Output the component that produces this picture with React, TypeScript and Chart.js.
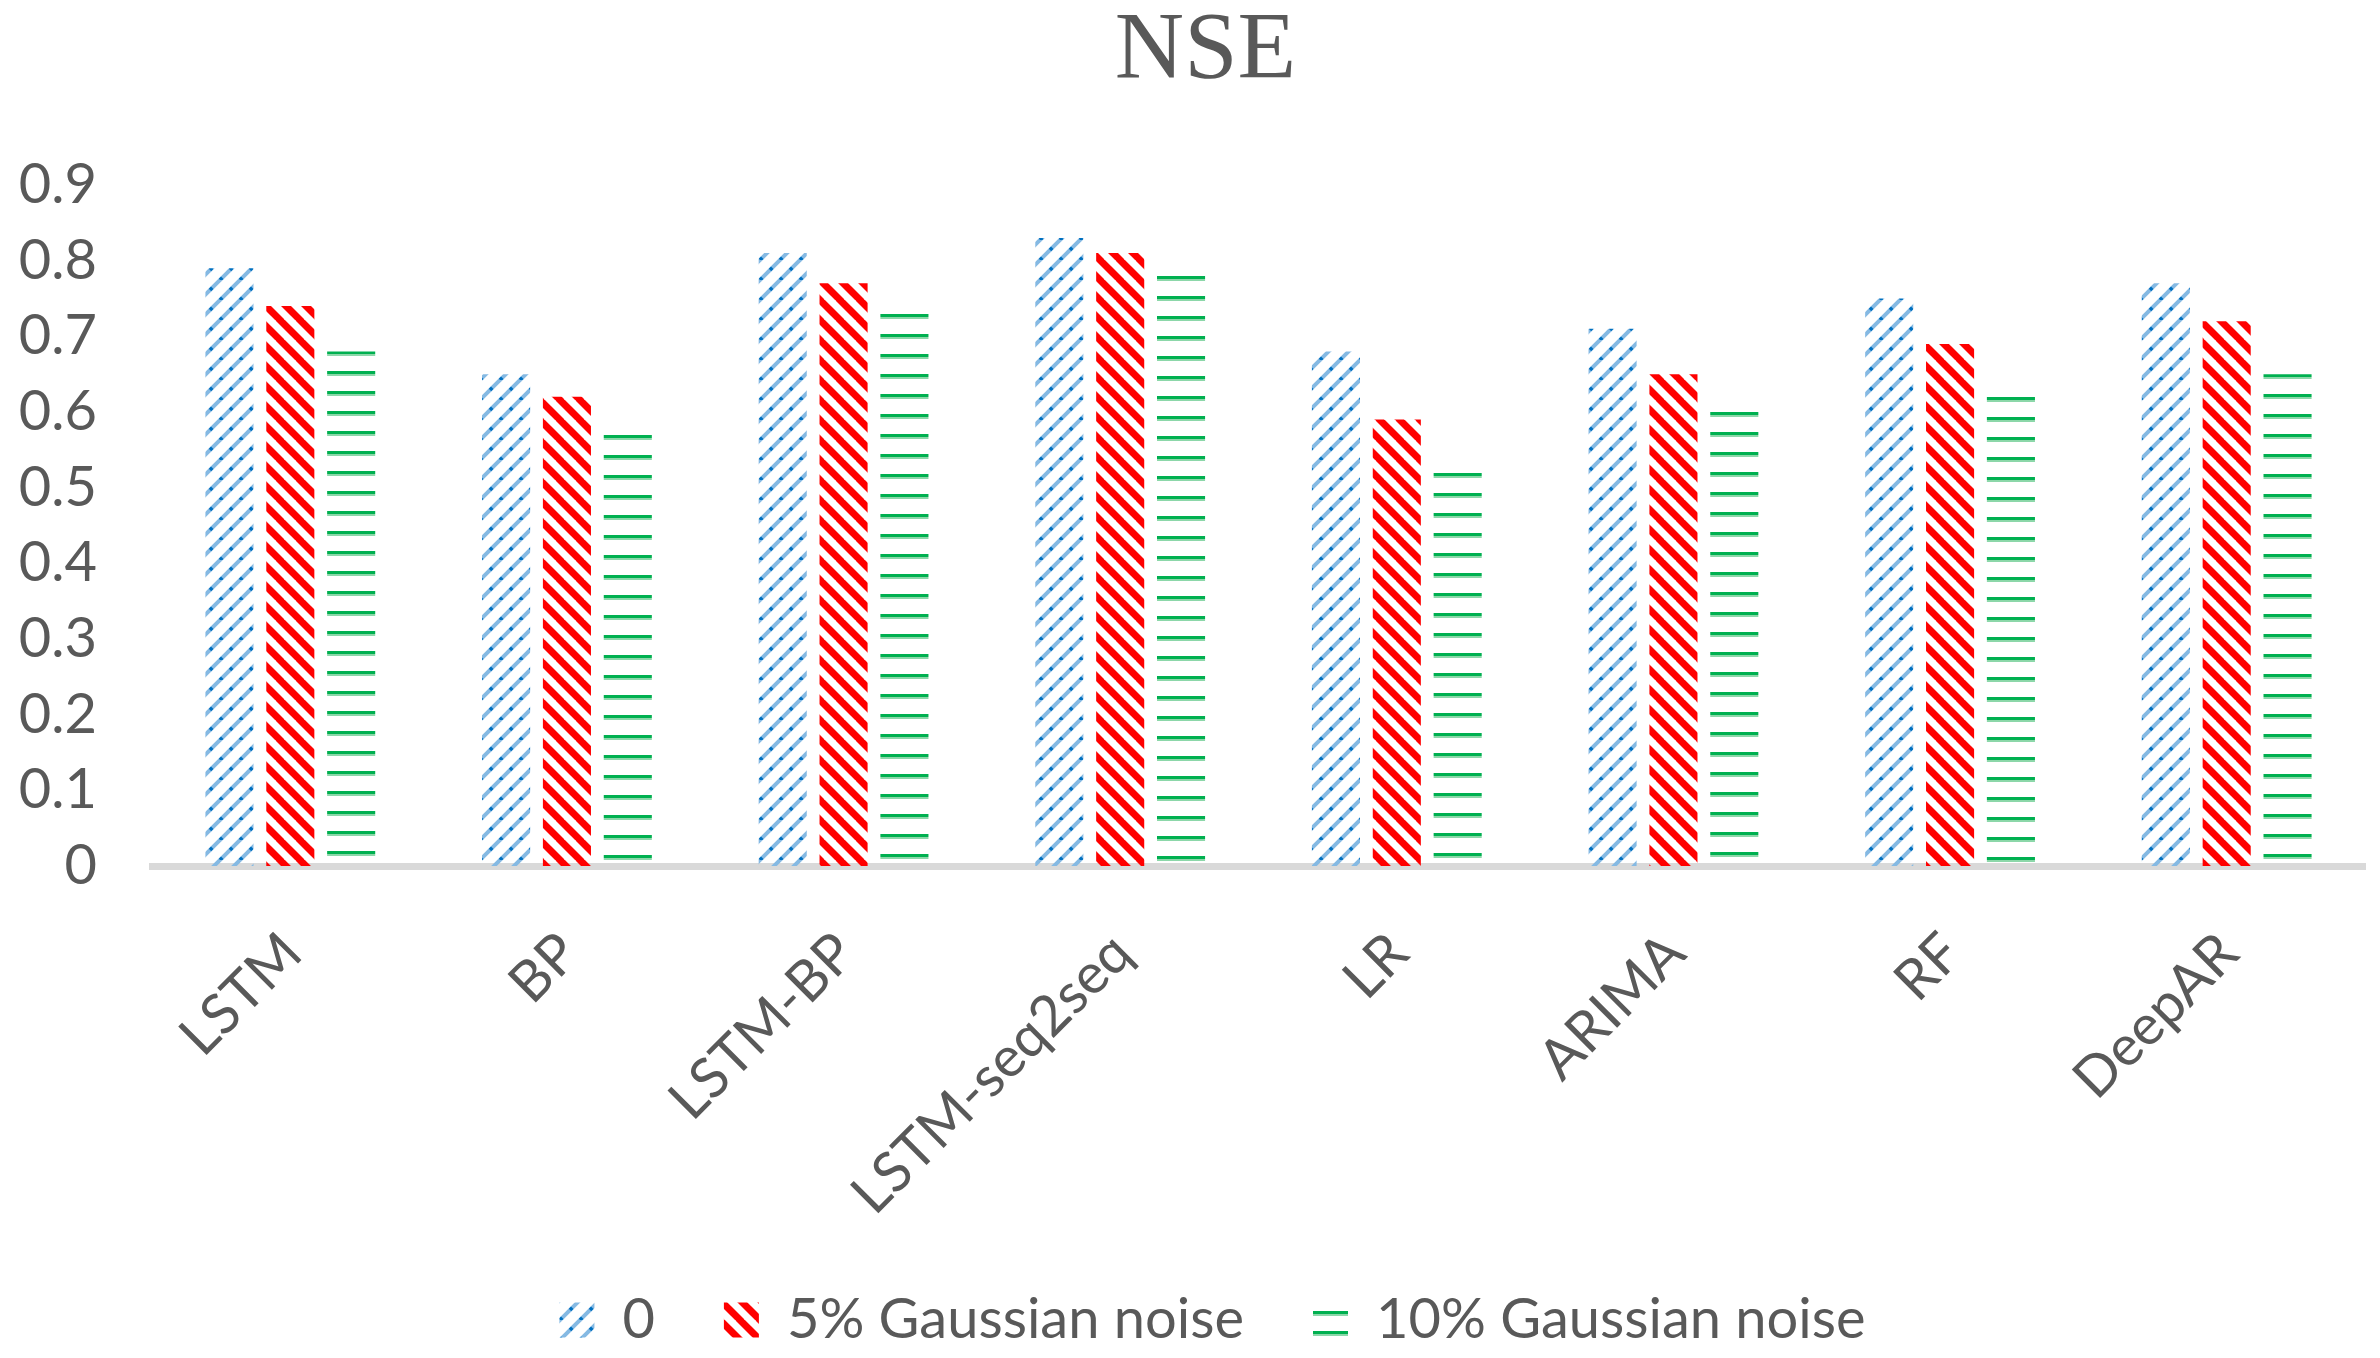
import { useEffect, useRef } from 'react';
import { Chart, registerables } from 'chart.js';

Chart.register(...registerables);

const categories = ['LSTM', 'BP', 'LSTM-BP', 'LSTM-seq2seq', 'LR', 'ARIMA', 'RF', 'DeepAR'];
const seriesNames = ['0', '5% Gaussian noise', '10% Gaussian noise'];
const noise0 = [0.79, 0.65, 0.81, 0.83, 0.68, 0.71, 0.75, 0.77];
const noise5 = [0.74, 0.62, 0.77, 0.81, 0.59, 0.65, 0.69, 0.72];
const noise10 = [0.68, 0.57, 0.73, 0.78, 0.52, 0.6, 0.62, 0.65];
const yTickLabels = ['0', '0.1', '0.2', '0.3', '0.4', '0.5', '0.6', '0.7', '0.8', '0.9'];

const TEXT = '#595959';

function tile(w: number, h: number, draw: (g: CanvasRenderingContext2D) => void) {
  const c = document.createElement('canvas');
  c.width = w;
  c.height = h;
  const g = c.getContext('2d')!;
  draw(g);
  return c;
}

function makeTiles() {
  const blue = tile(20, 20, (g) => {
    g.lineCap = 'butt';
    for (const o of [-20, 0, 20]) {
      g.strokeStyle = '#85b9e3';
      g.lineWidth = 4;
      g.setLineDash([]);
      g.beginPath();
      g.moveTo(o - 2, 22);
      g.lineTo(o + 22, -2);
      g.stroke();
    }
    for (const o of [-20, 0, 20]) {
      g.strokeStyle = '#0070c0';
      g.lineWidth = 3.5;
      g.setLineDash([3.2, 10.94]);
      g.beginPath();
      g.moveTo(o, 20);
      g.lineTo(o + 20, 0);
      g.stroke();
    }
  });
  const red = tile(20, 20, (g) => {
    g.strokeStyle = '#ff0000';
    g.lineWidth = 7;
    for (const o of [-20, 0, 20]) {
      g.beginPath();
      g.moveTo(o - 2, -2);
      g.lineTo(o + 22, 22);
      g.stroke();
    }
  });
  const green = tile(4, 20, (g) => {
    g.fillStyle = '#00b050';
    g.fillRect(0, 0, 4, 3);
    g.fillStyle = '#8cd7a9';
    g.fillRect(0, 3, 4, 2);
  });
  return { blue, red, green };
}

export default function App() {
  const ref = useRef<HTMLCanvasElement>(null);

  useEffect(() => {
    const canvas = ref.current!;
    const ctx = canvas.getContext('2d')!;
    const tiles = makeTiles();
    const bluePat = ctx.createPattern(tiles.blue, 'repeat')!;
    const redPat = ctx.createPattern(tiles.red, 'repeat')!;
    const greenPat = ctx.createPattern(tiles.green, 'repeat')!;
    const greenCache: Record<string, CanvasPattern> = {};
    const greenFor = (c: any) => {
      if (c.type !== 'data' || !c.chart.scales || !c.chart.scales.y) return greenPat;
      const top = Math.round(c.chart.scales.y.getPixelForValue(c.raw));
      const key = String(top);
      if (!greenCache[key]) {
        const p = ctx.createPattern(tiles.green, 'repeat')!;
        p.setTransform(new DOMMatrix().translate(0, top));
        greenCache[key] = p;
      }
      return greenCache[key];
    };
    const values = [noise0, noise5, noise10];
    const fills: any[] = [bluePat, redPat, greenFor];
    const font = { family: 'Lato', size: 56 };

    const shiftPlugin = {
      id: 'shiftBlocks',
      afterLayout(chart: any) {
        if (chart.titleBlock) chart.titleBlock.left = 46;
        if (chart.legend) chart.legend.left = 60;
      },
    };

    const chart = new Chart(canvas, {
      type: 'bar',
      data: {
        labels: categories,
        datasets: seriesNames.map((name, i) => ({
          label: name,
          data: values[i],
          backgroundColor: fills[i],
          borderWidth: 0,
          categoryPercentage: 0.66,
          barPercentage: 0.79,
        })),
      },
      options: {
        animation: false,
        responsive: false,
        maintainAspectRatio: false,
        layout: { padding: { left: 0, right: 15, top: 0, bottom: 0 } },
        plugins: {
          title: {
            display: true,
            text: 'NSE',
            color: TEXT,
            font: { family: 'Liberation Serif', size: 96, weight: 'normal', lineHeight: 1 },
            padding: { top: 5, bottom: 84 },
          },
          legend: {
            position: 'bottom',
            labels: {
              color: TEXT,
              font,
              boxWidth: 35,
              boxHeight: 35,
              padding: 69,
            },
          },
          tooltip: { enabled: false },
        },
        scales: {
          x: {
            grid: { display: false, drawTicks: false },
            border: { display: true, color: '#d9d9d9', width: 7 },
            ticks: {
              color: TEXT,
              font,
              minRotation: 45,
              maxRotation: 45,
              padding: 54,
              labelOffset: 2,
              autoSkip: false,
            },
            afterFit: (s: any) => {
              s.height = 357;
            },
          },
          y: {
            min: 0,
            max: 0.9,
            grid: { display: false, drawTicks: false },
            border: { display: false },
            ticks: {
              stepSize: 0.1,
              color: TEXT,
              font,
              padding: 55,
              callback: (_v: any, i: number) => yTickLabels[i],
            },
            afterFit: (s: any) => {
              s.width = 152;
            },
          },
        },
      },
      plugins: [shiftPlugin],
    });
    return () => chart.destroy();
  }, []);

  return (
    <div style={{ position: 'fixed', left: 0, top: 0, width: 2380, height: 1358, background: '#fff' }}>
      <canvas ref={ref} width={2380} height={1358} style={{ width: 2380, height: 1358, display: 'block' }} />
    </div>
  );
}
